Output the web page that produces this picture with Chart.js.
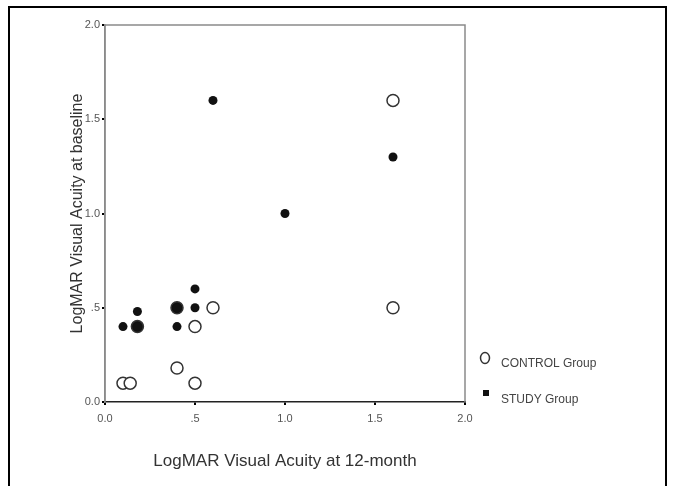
<!DOCTYPE html>
<html>
<head>
<meta charset="utf-8">
<script src="https://cdn.jsdelivr.net/npm/chart.js@4"></script>
<style>
  body { margin: 0; background: #fff; }
  #wrap { position: relative; width: 673px; height: 486px; overflow: hidden; }
  #frame { position: absolute; left: 8px; top: 6px; width: 655px; height: 500px; border: 2px solid #000; pointer-events: none; }
</style>
</head>
<body>
<div id="wrap">
  <canvas id="myChart" width="673" height="486"></canvas>
  <div id="frame"></div>
</div>
<script>
const controlX = [1.6, 1.6, 0.6, 0.5, 0.4, 0.5, 0.1, 0.14, 0.4, 0.18];
const controlY = [1.6, 0.5, 0.5, 0.4, 0.18, 0.1, 0.1, 0.1, 0.5, 0.4];
const studyX = [0.6, 1.6, 1.0, 0.5, 0.4, 0.5, 0.4, 0.18, 0.1, 0.18];
const studyY = [1.6, 1.3, 1.0, 0.6, 0.5, 0.5, 0.4, 0.48, 0.4, 0.4];
const tickValues = [0, 0.5, 1, 1.5, 2];
const groupNames = ['CONTROL Group', 'STUDY Group'];

const fontFamily = '"Liberation Sans", Arial, sans-serif';

function toPoints(xs, ys) {
    const pts = [];
    for (let i = 0; i < xs.length; i++) {
        pts.push({x: xs[i], y: ys[i]});
    }
    return pts;
}

function tickText(v) {
    if (v === 0.5) return '.5';
    return v.toFixed(1);
}

// a control circle sitting on a study dot shows as one dark blob
function coversStudy(i) {
    for (let j = 0; j < studyX.length; j++) {
        if (studyX[j] === controlX[i] && studyY[j] === controlY[i]) return true;
    }
    return false;
}

// box round the plot area + the legend at the right
const framePlugin = {
    id: 'framePlugin',
    beforeDatasetsDraw(chart) {
        const {ctx, chartArea: a} = chart;
        ctx.save();
        ctx.strokeStyle = '#8a8a8a';
        ctx.lineWidth = 1.5;
        ctx.beginPath();
        ctx.moveTo(a.left, a.bottom);
        ctx.lineTo(a.left, a.top);
        ctx.lineTo(a.right, a.top);
        ctx.lineTo(a.right, a.bottom);
        ctx.stroke();
        ctx.restore();
    },
    afterDraw(chart) {
        const ctx = chart.ctx;
        ctx.save();
        ctx.font = '12px ' + fontFamily;
        ctx.fillStyle = '#444';
        ctx.textBaseline = 'middle';
        // control marker
        ctx.strokeStyle = '#333';
        ctx.lineWidth = 1.5;
        ctx.beginPath();
        ctx.ellipse(485, 358, 4.5, 5.5, 0, 0, Math.PI * 2);
        ctx.stroke();
        ctx.fillText(groupNames[0], 501, 364);
        // study marker
        ctx.fillStyle = '#111';
        ctx.fillRect(483, 390, 6, 6);
        ctx.fillStyle = '#444';
        ctx.fillText(groupNames[1], 501, 400);
        ctx.restore();
    }
};

const data = {
    datasets: [
        {
            label: groupNames[0],
            data: toPoints(controlX, controlY),
            pointStyle: 'circle',
            pointRadius: 6,
            pointBorderWidth: 1.5,
            pointBorderColor: '#333',
            pointBackgroundColor: (c) => coversStudy(c.dataIndex) ? '#111' : '#fff',
            order: 1
        },
        {
            label: groupNames[1],
            data: toPoints(studyX, studyY),
            pointStyle: 'circle',
            pointRadius: 4.5,
            pointBorderWidth: 0,
            pointBackgroundColor: '#111',
            order: 0
        }
    ]
};

const config = {
    type: 'scatter',
    data,
    options: {
        responsive: false,
        animation: false,
        devicePixelRatio: 1,
        layout: {
            padding: {left: 60, top: 25, right: 208, bottom: 0}
        },
        plugins: {
            legend: {display: false},
            tooltip: {enabled: false}
        },
        scales: {
            x: {
                type: 'linear',
                min: 0,
                max: 2,
                afterBuildTicks: (scale) => { scale.ticks = tickValues.map(v => ({value: v})); },
                afterFit: (scale) => { scale.height = 84; },
                border: {color: '#222', width: 1.5},
                grid: {drawOnChartArea: false, drawTicks: true, tickLength: 3, color: '#000', lineWidth: 2},
                ticks: {
                    padding: 7,
                    color: '#555',
                    font: {family: fontFamily, size: 11},
                    callback: (v) => tickText(v)
                },
                title: {
                    display: true,
                    text: 'LogMAR Visual Acuity at 12-month',
                    color: '#333',
                    font: {family: fontFamily, size: 17},
                    padding: {top: 0, bottom: 14}
                }
            },
            y: {
                type: 'linear',
                min: 0,
                max: 2,
                afterBuildTicks: (scale) => { scale.ticks = tickValues.map(v => ({value: v})); },
                afterFit: (scale) => { scale.width = 45; },
                border: {color: '#8a8a8a', width: 1.5},
                grid: {drawOnChartArea: false, drawTicks: true, tickLength: 3, color: '#000', lineWidth: 2},
                ticks: {
                    padding: 2,
                    color: '#555',
                    font: {family: fontFamily, size: 11},
                    callback: (v) => tickText(v)
                },
                title: {
                    display: true,
                    text: 'LogMAR Visual Acuity at baseline',
                    color: '#333',
                    font: {family: fontFamily, size: 16},
                    padding: {top: 8, bottom: 0}
                }
            }
        }
    },
    plugins: [framePlugin]
};

const myChart = new Chart(
    document.getElementById('myChart'),
    config
);
</script>
</body>
</html>
